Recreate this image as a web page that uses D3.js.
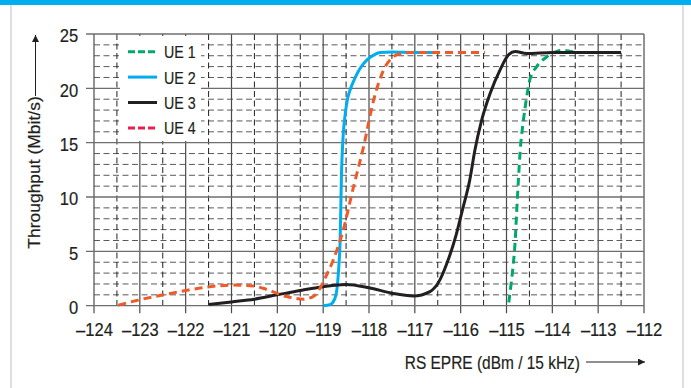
<!DOCTYPE html>
<html><head><meta charset="utf-8">
<script src="https://cdn.jsdelivr.net/npm/d3@7"></script>
<style>
html,body{margin:0;padding:0;background:#fff;}
svg{display:block;}
text{font-family:"Liberation Sans",Arial,sans-serif;fill:#231f20;stroke:#231f20;stroke-width:0.2px;}
</style></head>
<body>
<svg id="c" width="691" height="388"></svg>
<script>
// ---- data ----
const xTicks = [-124,-123,-122,-121,-120,-119,-118,-117,-116,-115,-114,-113,-112];
const yTicks = [0,5,10,15,20,25];
const seriesNames = ["UE 1","UE 2","UE 3","UE 4"];

const ue1X = [-114.95,-114.9,-114.85,-114.81,-114.78,-114.74,-114.7,-114.63,-114.56,-114.49,-114.34,-114.12,-113.9,-113.75,-113.6,-113.47];
const ue1Y = [0.3,2.0,3.9,6.0,8.5,11.6,14.3,17.1,19.2,20.8,22.0,22.9,23.4,23.5,23.4,23.3];

const ue2X = [-119.0,-118.85,-118.75,-118.7,-118.66,-118.63,-118.6,-118.56,-118.52,-118.47,-118.4,-118.3,-118.2,-118.05,-117.9,-117.76,-117.5,-117.0,-116.49];
const ue2Y = [0,0.1,0.6,1.5,3.5,6.0,12.2,15.9,17.6,19.0,20.0,21.0,21.8,22.6,23.06,23.3,23.35,23.3,23.3];

const ue3X = [-121.5,-121,-120.5,-120,-119.5,-119,-118.5,-118,-117.5,-117.03,-116.67,-116.45,-116.3,-116.1,-115.95,-115.8,-115.69,-115.54,-115.36,-115.14,-114.96,-114.81,-114.56,-114,-113,-112.5];
const ue3Y = [0.1,0.35,0.6,1.0,1.4,1.75,1.95,1.65,1.15,0.9,1.3,2.4,3.9,6.5,9.0,11.6,14.3,17.1,19.5,21.7,23.06,23.4,23.2,23.3,23.3,23.3];

const ue4X = [-123.47,-123,-122.49,-122,-121.47,-120.96,-120.5,-120.31,-119.8,-119.43,-119.2,-119.07,-118.95,-118.78,-118.56,-118.34,-118.12,-117.9,-117.68,-117.47,-117.3,-117.1,-116.5,-116,-115.47];
const ue4Y = [0.05,0.55,1.0,1.4,1.75,1.9,1.8,1.6,0.85,0.6,0.9,1.6,2.6,4.2,7.0,10.9,14.6,18.9,21.7,22.9,23.2,23.3,23.3,23.3,23.3];

const seriesX = [ue1X, ue2X, ue3X, ue4X];
const seriesY = [ue1Y, ue2Y, ue3Y, ue4Y];
const seriesColor = ["#00a86b","#00aeef","#231f20","#f05a28"];
const legendColor = ["#00a86b","#00aeef","#231f20","#e8204e"];
const seriesDash = ["8,5",null,null,"8,5"];

// ---- layout ----
const svg = d3.select("#c");
const L=94, R=644, T=34, B=305.7;
const x = d3.scaleLinear().domain([-124,-112]).range([L,R]);
const y = d3.scaleLinear().domain([0,25]).range([B,T]);

// frame
svg.append("rect").attr("x",0).attr("y",0).attr("width",691).attr("height",5).attr("fill","#00aeef");
svg.append("line").attr("x1",11).attr("x2",11).attr("y1",5).attr("y2",388).attr("stroke","#d4d4d4").attr("stroke-width",1.5);
svg.append("line").attr("x1",683).attr("x2",683).attr("y1",5).attr("y2",388).attr("stroke","#d4d4d4").attr("stroke-width",1.5);

const g = svg.append("g");
const minorY = d3.range(1,25).filter(v=>v%5!==0);
g.selectAll(".hm").data(minorY).enter().append("line")
 .attr("x1",L).attr("x2",R).attr("y1",d=>y(d)).attr("y2",d=>y(d))
 .attr("stroke","#5a5a5a").attr("stroke-width",1).attr("stroke-dasharray","6,3.5");
const halfX = d3.range(-123.5,-112,1);
g.selectAll(".vm").data(halfX).enter().append("line")
 .attr("x1",d=>x(d)).attr("x2",d=>x(d)).attr("y1",T).attr("y2",B)
 .attr("stroke","#222").attr("stroke-width",1).attr("stroke-dasharray","6,3.5");
g.selectAll(".vM").data(xTicks).enter().append("line")
 .attr("x1",d=>x(d)).attr("x2",d=>x(d)).attr("y1",T).attr("y2",B+7.5)
 .attr("stroke","#4a4a4a").attr("stroke-width",1.2);
g.selectAll(".hM").data(yTicks).enter().append("line")
 .attr("x1",L-8).attr("x2",R).attr("y1",d=>y(d)).attr("y2",d=>y(d))
 .attr("stroke","#6e6e6e").attr("stroke-width",1.3);

// legend box (covers grid)
svg.append("rect").attr("x",120).attr("y",36).attr("width",81).attr("height",105).attr("fill","#fff");

// axes labels via d3 axis
const ax = svg.append("g").attr("transform",`translate(0,${B+8})`)
 .call(d3.axisBottom(x).tickValues(xTicks).tickSize(0).tickPadding(9.5).tickFormat(d=>String(d).replace("-","\u2013")));
ax.select(".domain").remove();
ax.selectAll("text").attr("font-size",18).attr("font-family",null).attr("fill","#231f20")
 .attr("transform",`scale(0.92,1)`);
const ay = svg.append("g").attr("transform",`translate(${L-8},0)`)
 .call(d3.axisLeft(y).tickValues(yTicks).tickSize(0).tickPadding(8.5));
ay.select(".domain").remove();
ay.selectAll("text").attr("font-size",18).attr("font-family",null).attr("fill","#231f20")
 .attr("dy",7.8).attr("transform",`scale(0.92,1)`);

// curves
const line = d3.line().x(d=>x(d[0])).y(d=>y(d[1])).curve(d3.curveMonotoneX);
seriesX.forEach((xs,i)=>{
  const pts = xs.map((v,j)=>[v,seriesY[i][j]]);
  svg.append("path").datum(pts).attr("d",line).attr("fill","none")
   .attr("stroke",seriesColor[i]).attr("stroke-width",3)
   .attr("stroke-dasharray",seriesDash[i]).attr("stroke-linejoin","round");
});

// legend
seriesNames.forEach((n,i)=>{
  const yy = 51.7 + i*25.4;
  svg.append("line").attr("x1",128).attr("x2",157).attr("y1",yy).attr("y2",yy)
   .attr("stroke",legendColor[i]).attr("stroke-width",3)
   .attr("stroke-dasharray",seriesDash[i] ? "7,3" : null);
  svg.append("text").attr("transform",`translate(164,${yy+6.4}) scale(0.84,1)`)
   .attr("font-size",17).text(n);
});

// axis titles with arrows
svg.append("defs").append("marker").attr("id","ah").attr("viewBox","0 0 10 10")
 .attr("refX",10).attr("refY",5).attr("markerWidth",10).attr("markerHeight",7)
 .attr("markerUnits","userSpaceOnUse").attr("orient","auto")
 .append("path").attr("d","M0,0 L10,5 L0,10 z").attr("fill","#231f20");
svg.append("text").attr("transform",`translate(40,172.5) rotate(-90) scale(1,0.9)`).attr("text-anchor","middle")
 .attr("font-size",17.5).text("Throughput (Mbit/s)");
svg.append("line").attr("x1",35.5).attr("x2",35.5).attr("y1",96).attr("y2",35)
 .attr("stroke","#231f20").attr("stroke-width",1).attr("marker-end","url(#ah)");
svg.append("text").attr("transform",`translate(580,369) scale(0.86,1)`).attr("text-anchor","end")
 .attr("font-size",18).text("RS EPRE (dBm / 15 kHz)");
svg.append("line").attr("x1",586).attr("x2",645).attr("y1",362).attr("y2",362)
 .attr("stroke","#231f20").attr("stroke-width",1).attr("marker-end","url(#ah)");
</script>
</body></html>
